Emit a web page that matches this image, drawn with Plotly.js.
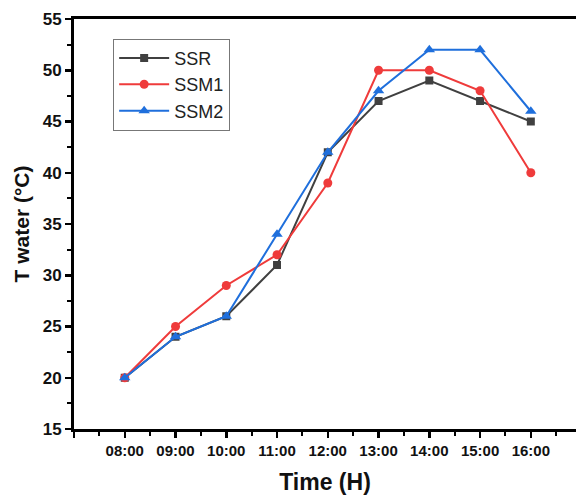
<!DOCTYPE html>
<html><head><meta charset="utf-8">
<script src="https://cdn.plot.ly/plotly-3.0.1.min.js"></script>
<style>html,body{margin:0;padding:0;background:#fff}</style>
</head><body>
<div id="chart" style="width:576px;height:497px"></div>
<script>
const categories = ["08:00","09:00","10:00","11:00","12:00","13:00","14:00","15:00","16:00"];
const ssr  = [20,24,26,31,42,47,49,47,45];
const ssm1 = [20,25,29,32,39,50,50,48,40];
const ssm2 = [20,24,26,34,42,48,52,52,46];
const xTickLabels = ["", ...categories];

const xs = categories.map(c => parseInt(c.split(":")[0], 10));
const tickvals = [7, ...xs];

function trace(name, y, color, symbol, size) {
  return {x: xs, y: y, name: name, type: 'scatter', mode: 'lines+markers',
    line: {color: color, width: 2}, marker: {color: color, symbol: symbol, size: size}};
}
const data = [
  trace('SSR', ssr, '#404040', 'square', 8),
  trace('SSM1', ssm1, '#ef3b3b', 'circle', 9),
  trace('SSM2', ssm2, '#1f6fdc', 'triangle-up', 10)
];
const font = {family: 'Liberation Sans, Arial, sans-serif', color: '#111'};
const layout = {
  width: 576, height: 497,
  margin: {l: 74, r: 0, t: 19, b: 68},
  paper_bgcolor: '#fff', plot_bgcolor: '#fff',
  showlegend: true,
  legend: {x: 0.078, y: 0.952, xanchor: 'left', yanchor: 'top',
    bordercolor: '#777', borderwidth: 1, bgcolor: '#fff', itemwidth: 50,
    font: {family: font.family, size: 18, color: '#222'}, tracegroupgap: 0},
  xaxis: {range: [7, 16.89], tickvals: tickvals, ticktext: xTickLabels,
    showgrid: false, zeroline: false, showline: true, linecolor: '#000', linewidth: 3,
    mirror: true, ticks: 'outside', ticklen: 6, tickwidth: 2.5, tickcolor: '#000',
    minor: {dtick: 0.5, tick0: 7, ticks: 'outside', ticklen: 4, tickwidth: 2, tickcolor: '#000'},
    tickfont: {family: font.family, size: 15, color: '#111', weight: 'bold'},
    title: {text: 'Time (H)', font: {family: font.family, size: 23, color: '#111', weight: 'bold'}, standoff: 16}},
  yaxis: {range: [15, 55], dtick: 5, tick0: 15,
    showgrid: false, zeroline: false, showline: true, linecolor: '#000', linewidth: 3,
    mirror: false, ticks: 'outside', ticklen: 6, tickwidth: 2.5, tickcolor: '#000',
    minor: {dtick: 2.5, tick0: 15, ticks: 'outside', ticklen: 4, tickwidth: 2, tickcolor: '#000'},
    tickfont: {family: font.family, size: 17, color: '#111', weight: 'bold'},
    title: {text: 'T water (°C)', font: {family: font.family, size: 21, color: '#111', weight: 'bold'}, standoff: 8}}
};
Plotly.newPlot('chart', data, layout, {displayModeBar: false, staticPlot: true});
</script>
</body></html>
